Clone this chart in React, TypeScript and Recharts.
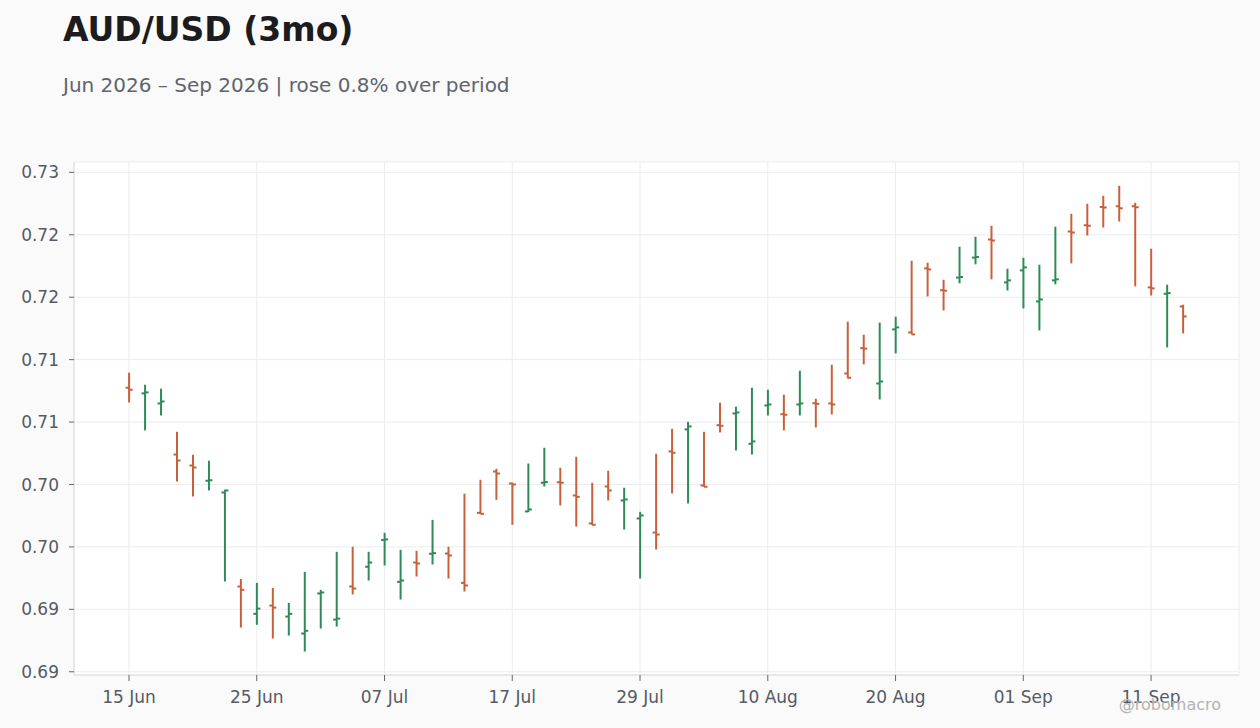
import React from "react";
import { ComposedChart, Bar, XAxis, YAxis, CartesianGrid } from "recharts";

const dates = [
  "15 Jun", "16 Jun", "17 Jun", "18 Jun", "19 Jun", "22 Jun", "23 Jun", "24 Jun", "25 Jun", "26 Jun", "29 Jun", "30 Jun",
  "01 Jul", "02 Jul", "03 Jul", "06 Jul", "07 Jul", "08 Jul", "09 Jul", "10 Jul", "13 Jul", "14 Jul", "15 Jul", "16 Jul",
  "17 Jul", "20 Jul", "21 Jul", "22 Jul", "23 Jul", "24 Jul", "27 Jul", "28 Jul", "29 Jul", "30 Jul", "31 Jul",
  "03 Aug", "04 Aug", "05 Aug", "06 Aug", "07 Aug", "10 Aug", "11 Aug", "12 Aug", "13 Aug", "14 Aug", "17 Aug", "18 Aug",
  "19 Aug", "20 Aug", "21 Aug", "24 Aug", "25 Aug", "26 Aug", "27 Aug", "28 Aug", "31 Aug",
  "01 Sep", "02 Sep", "03 Sep", "04 Sep", "07 Sep", "08 Sep", "09 Sep", "10 Sep", "11 Sep", "14 Sep", "15 Sep",
];

const opens = [
  0.71275, 0.7123, 0.71149, 0.7074, 0.70652, 0.7053, 0.70436, 0.69683, 0.69464, 0.6953, 0.69442, 0.69306,
  0.69627, 0.69418, 0.69683, 0.69841, 0.70055, 0.6972, 0.69875, 0.69945, 0.69947, 0.69712, 0.70273, 0.70604,
  0.70508, 0.70284, 0.70514, 0.70518, 0.70412, 0.70188, 0.70484, 0.70372, 0.70228, 0.70115, 0.70765,
  0.70941, 0.70492, 0.70975, 0.71069, 0.70826, 0.71133, 0.71063, 0.71141, 0.71151, 0.71149, 0.71389, 0.71592,
  0.71309, 0.71742, 0.71718, 0.72231, 0.72056, 0.72157, 0.72317, 0.72463, 0.72119,
  0.72215, 0.71966, 0.72135, 0.72527, 0.72577, 0.72722, 0.72728, 0.72728, 0.72079, 0.72028, 0.71926,
];

const highs = [
  0.71396, 0.71299, 0.71267, 0.70922, 0.70738, 0.7069, 0.70458, 0.69744, 0.69712, 0.69672, 0.69552, 0.698,
  0.69656, 0.69961, 0.70001, 0.69961, 0.70113, 0.69977, 0.69969, 0.70217, 0.70001, 0.70426, 0.70538, 0.70626,
  0.70514, 0.70668, 0.70794, 0.70634, 0.70722, 0.70514, 0.7061, 0.70474, 0.70281, 0.70746, 0.70946,
  0.71002, 0.70922, 0.71155, 0.71123, 0.71275, 0.71259, 0.71219, 0.71411, 0.71187, 0.71459, 0.71804, 0.717,
  0.71796, 0.71844, 0.72292, 0.72276, 0.7214, 0.72405, 0.72485, 0.72573, 0.72228,
  0.72316, 0.7226, 0.72565, 0.72669, 0.72749, 0.72813, 0.72893, 0.72757, 0.72389, 0.721, 0.7194,
];

const lows = [
  0.71157, 0.70933, 0.71053, 0.70524, 0.70404, 0.70452, 0.69723, 0.69354, 0.69376, 0.69266, 0.6929, 0.69162,
  0.69346, 0.69362, 0.69619, 0.69731, 0.69851, 0.69579, 0.69763, 0.69859, 0.69747, 0.69643, 0.70263, 0.70377,
  0.70177, 0.70279, 0.70484, 0.70332, 0.70163, 0.70175, 0.70372, 0.70139, 0.69747, 0.69979, 0.70428,
  0.70348, 0.70482, 0.70917, 0.70772, 0.7074, 0.71053, 0.70933, 0.71053, 0.70957, 0.71061, 0.7135, 0.71462,
  0.71181, 0.7155, 0.71702, 0.72006, 0.71894, 0.72111, 0.72263, 0.72143, 0.72054,
  0.7191, 0.71734, 0.72103, 0.72271, 0.72495, 0.72559, 0.72607, 0.72087, 0.72014, 0.71598, 0.7171,
];

const closes = [
  0.71259, 0.71238, 0.71165, 0.70692, 0.70636, 0.70534, 0.70452, 0.69656, 0.69506, 0.69514, 0.69464, 0.69328,
  0.69635, 0.69426, 0.69667, 0.69875, 0.7006, 0.69731, 0.69867, 0.6995, 0.69931, 0.69691, 0.70265, 0.70588,
  0.705, 0.703, 0.7052, 0.70514, 0.70401, 0.70177, 0.70452, 0.7038, 0.70252, 0.70099, 0.70754,
  0.70965, 0.70482, 0.7097, 0.71077, 0.70845, 0.71141, 0.71058, 0.71149, 0.71146, 0.71141, 0.71355, 0.71588,
  0.71325, 0.71758, 0.71702, 0.72223, 0.72052, 0.72162, 0.72322, 0.72455, 0.72135,
  0.72239, 0.71982, 0.72143, 0.72519, 0.72573, 0.72718, 0.72712, 0.7272, 0.72071, 0.72033, 0.71846,
];

const yTicks = [0.69, 0.695, 0.7, 0.705, 0.71, 0.715, 0.72, 0.725, 0.73];

const TITLE = "AUD/USD (3mo)";
const SUBTITLE = "Jun 2026 \u2013 Sep 2026 | rose 0.8% over period";
const WATERMARK = "@robomacro";

const UP = "#2e8b57";
const DOWN = "#c8603c";
const FONT = "'DejaVu Sans', sans-serif";

const data = dates.map((d, i) => ({
  date: d,
  open: opens[i],
  high: highs[i],
  low: lows[i],
  close: closes[i],
  range: [lows[i], highs[i]],
}));

const OhlcShape = (props: any) => {
  const { x, y, width, height, payload } = props;
  if (x == null || y == null || !payload) return null;
  const top = Math.min(y, y + height);
  const span = Math.abs(height);
  const { open, high, low, close } = payload;
  const toPx = (v: number) => top + ((high - v) / (high - low)) * span;
  const cx = x + width / 2;
  const color = close >= open ? UP : DOWN;
  const yo = toPx(open);
  const yc = toPx(close);
  return (
    <g>
      <line x1={cx} x2={cx} y1={top} y2={top + span} stroke={color} strokeWidth={2} />
      <line x1={cx - 3.5} x2={cx} y1={yo} y2={yo} stroke={color} strokeWidth={2} />
      <line x1={cx} x2={cx + 3.5} y1={yc} y2={yc} stroke={color} strokeWidth={2} />
    </g>
  );
};

export default function App() {
  return (
    <div
      style={{
        position: "fixed",
        left: 0,
        top: 0,
        width: 1260,
        height: 728,
        background: "#fafafa",
        fontFamily: FONT,
      }}
    >
      <svg width={1260} height={728} style={{ position: "absolute", left: 0, top: 0 }}>
        <text x={63} y={41} fontFamily={FONT} fontSize={33} fontWeight="bold" fill="#1b1b20">
          {TITLE}
        </text>
        <text x={63} y={92} fontFamily={FONT} fontSize={20} fill="#60646c">
          {SUBTITLE}
        </text>
      </svg>
      <div style={{ position: "absolute", left: 0, top: 0 }}>
        <ComposedChart
          width={1260}
          height={728}
          data={data}
          margin={{ top: 162, right: 21, bottom: 13, left: 10 }}
          style={{ fontFamily: FONT }}
        >
          <CartesianGrid stroke="#ececec" fill="#ffffff" />
          <XAxis
            dataKey="date"
            interval={7}
            padding={{ left: 47, right: 48 }}
            height={40}
            tickSize={6}
            tickMargin={10}
            tick={{ fill: "#555a64", fontSize: 17, fontFamily: FONT }}
            tickLine={{ stroke: "#666666" }}
            axisLine={{ stroke: "#dcdcdc" }}
          />
          <XAxis
            xAxisId="top"
            orientation="top"
            dataKey="date"
            height={0}
            tick={false}
            tickLine={false}
            axisLine={{ stroke: "#dcdcdc" }}
          />
          <YAxis
            type="number"
            domain={[0.68974, 0.73083]}
            allowDataOverflow
            ticks={yTicks}
            width={64}
            tickSize={5}
            tickMargin={10}
            tickFormatter={(v: number) => v.toFixed(2)}
            tick={{ fill: "#555a64", fontSize: 17, fontFamily: FONT }}
            tickLine={{ stroke: "#666666" }}
            axisLine={{ stroke: "#dcdcdc" }}
          />
          <YAxis
            yAxisId="right"
            orientation="right"
            width={0}
            domain={[0, 1]}
            tick={false}
            tickLine={false}
            axisLine={{ stroke: "#dcdcdc" }}
          />
          <Bar dataKey="range" shape={OhlcShape} isAnimationActive={false} />
        </ComposedChart>
      </div>
      <svg width={1260} height={728} style={{ position: "absolute", left: 0, top: 0, pointerEvents: "none" }}>
        <text x={1221} y={710} textAnchor="end" fontFamily={FONT} fontSize={16} fill="#b4b4b4">
          {WATERMARK}
        </text>
      </svg>
    </div>
  );
}
